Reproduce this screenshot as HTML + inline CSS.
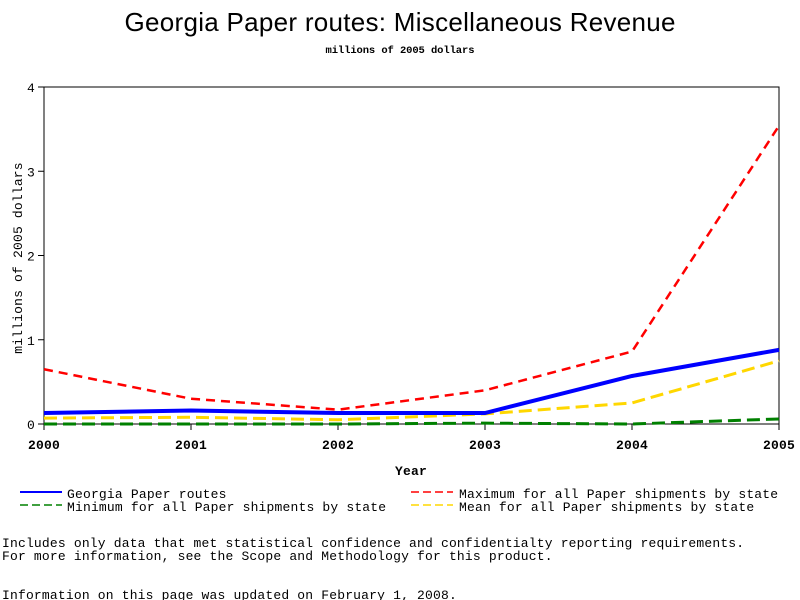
<!DOCTYPE html>
<html><head><meta charset="utf-8"><style>
body{margin:0;background:#fff;width:800px;height:600px;overflow:hidden}
svg{display:block}
.m{font-family:"Liberation Mono",monospace;font-size:13px;letter-spacing:0.18px}
</style></head><body>
<svg id="c" width="800" height="600">
<text x="400" y="31" text-anchor="middle" font-family="Liberation Sans,sans-serif" font-size="26" textLength="551">Georgia Paper routes: Miscellaneous Revenue</text>
<text x="400" y="53" text-anchor="middle" font-family="Liberation Mono,monospace" font-size="10.5" font-weight="bold" textLength="149">millions of 2005 dollars</text>
<g id="plot"></g>
<text x="411" y="475" text-anchor="middle" class="m" font-weight="bold" font-size="12">Year</text>
<text transform="translate(22,258) rotate(-90)" text-anchor="middle" class="m" font-size="12">millions of 2005 dollars</text>
<g class="m">
<line x1="20" y1="492" x2="62" y2="492" stroke="#0000ff" stroke-width="2"/>
<text x="67" y="498">Georgia Paper routes</text>
<line x1="20" y1="505" x2="62" y2="505" stroke="#008000" stroke-width="1.5" stroke-dasharray="8,4"/>
<text x="67" y="511">Minimum for all Paper shipments by state</text>
<line x1="411" y1="492" x2="453" y2="492" stroke="#ff0000" stroke-width="1.5" stroke-dasharray="8,4"/>
<text x="459" y="498">Maximum for all Paper shipments by state</text>
<line x1="411" y1="505" x2="453" y2="505" stroke="#ffd700" stroke-width="1.5" stroke-dasharray="8,4"/>
<text x="459" y="511">Mean for all Paper shipments by state</text>
</g>
<text x="2" y="547" class="m">Includes only data that met statistical confidence and confidentialty reporting requirements.</text>
<text x="2" y="560" class="m">For more information, see the Scope and Methodology for this product.</text>
<text x="2" y="599" class="m">Information on this page was updated on February 1, 2008.</text>
</svg>
<script>
const years=[2000,2001,2002,2003,2004,2005];
const yTicks=[0,1,2,3,4];
const georgia=[0.13,0.16,0.13,0.13,0.57,0.88];
const maximum=[0.65,0.30,0.17,0.40,0.86,3.54];
const mean=[0.07,0.08,0.05,0.12,0.25,0.75];
const minimum=[0.00,0.00,0.00,0.01,0.00,0.06];
const X0=44,X1=779,Y0=424,Y1=87;
const xs=v=>X0+(v-years[0])/(years[years.length-1]-years[0])*(X1-X0);
const ys=v=>Y0-v/4*(Y0-Y1);
const NS="http://www.w3.org/2000/svg";
const g=document.getElementById('plot');
function mk(t,a){const e=document.createElementNS(NS,t);for(const k in a)e.setAttribute(k,a[k]);g.appendChild(e);return e;}
const fr=mk('rect',{x:X0,y:Y1,width:X1-X0,height:Y0-Y1,fill:'none',stroke:'#000','stroke-width':1});


yTicks.forEach(v=>{
 const l=mk('line',{x1:X0-6,x2:X0,y1:ys(v),y2:ys(v),stroke:'#000'});
 
 
 const t=mk('text',{x:X0-9,y:ys(v)+5,'text-anchor':'end','class':'m'});t.textContent=v;
 
 
});
years.forEach(v=>{
 const l=mk('line',{x1:xs(v),x2:xs(v),y1:Y0,y2:Y0+6,stroke:'#000'});
 
 
 const t=mk('text',{x:xs(v),y:Y0+25,'text-anchor':'middle','class':'m','font-weight':'bold','font-size':'12'});t.textContent=v;
 
 
});
function series(d,c,w,dash,name){
 const p=mk('polyline',{points:d.map((v,i)=>xs(years[i])+','+ys(v)).join(' '),fill:'none',stroke:c,'stroke-width':w});
 if(dash)p.setAttribute('stroke-dasharray',dash);
 
 
}
series(maximum,'#ff0000',2.5,'9,6','maximum-line');
series(minimum,'#008000',3,'13,6','minimum-line');
series(mean,'#ffd700',3,'13,6','mean-line');
series(georgia,'#0000ff',4,null,'georgia-line');
</script>
</body></html>
